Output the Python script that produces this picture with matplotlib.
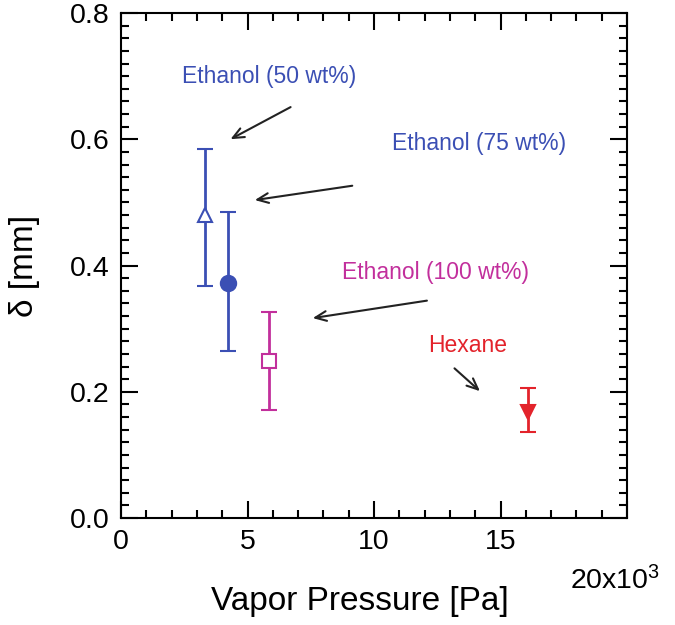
import numpy as np
import matplotlib.pyplot as plt
from matplotlib.ticker import MultipleLocator, FixedLocator

plt.rcParams['font.family'] = ['Liberation Sans', 'DejaVu Sans']
plt.rcParams['mathtext.fontset'] = 'custom'
plt.rcParams['mathtext.rm'] = 'Liberation Sans'
plt.rcParams['mathtext.it'] = 'Liberation Sans:italic'

# data (vapor pressure in kPa, delta in mm)
names = ['Ethanol (50 wt%)', 'Ethanol (75 wt%)', 'Ethanol (100 wt%)', 'Hexane']
pressure = [3.32, 4.23, 5.85, 16.1]
delta = [0.48, 0.373, 0.248, 0.168]
err_low = [0.112, 0.109, 0.077, 0.032]
err_high = [0.105, 0.111, 0.079, 0.038]
colors = ['#3b4fb4', '#3b4fb4', '#c22f9c', '#e3232b']
markers = ['^', 'o', 's', 'v']
filled = [False, True, False, True]

fig = plt.figure(figsize=(6.75, 6.25), dpi=100)
ax = fig.add_axes([121/675, 1-518/625, (627-121)/675, (518-13)/625])

for i in range(len(names)):
    ax.errorbar(pressure[i], delta[i], yerr=[[err_low[i]], [err_high[i]]],
                fmt=markers[i], color=colors[i], ms=10 if markers[i] != 'o' else 11,
                mfc=colors[i] if filled[i] else 'white', mec=colors[i], mew=1.5,
                elinewidth=2, capsize=6, capthick=2)

# annotations: text pos, arrow tail, arrow head
text_pos = [(5.85, 0.70), (14.15, 0.593), (12.45, 0.389), (13.7, 0.274)]
tails = [(6.8, 0.653), (9.25, 0.527), (12.2, 0.345), (13.1, 0.240)]
heads = [(4.23, 0.598), (5.18, 0.503), (7.47, 0.316), (14.27, 0.198)]
for i in range(len(names)):
    ax.text(text_pos[i][0], text_pos[i][1], names[i], color=colors[i],
            fontsize=16.5, ha='center', va='center')
    ax.annotate('', xy=heads[i], xytext=tails[i],
                arrowprops=dict(arrowstyle='->,head_length=0.8,head_width=0.35',
                                color='#222222', lw=1.5))

ax.set_xlim(0, 20)
ax.set_ylim(0, 0.8)
ax.xaxis.set_major_locator(FixedLocator([0, 5, 10, 15, 20]))
ax.xaxis.set_minor_locator(MultipleLocator(1))
ax.yaxis.set_major_locator(FixedLocator([0, 0.2, 0.4, 0.6, 0.8]))
ax.yaxis.set_minor_locator(MultipleLocator(0.02))
ax.set_xticklabels(['0', '5', '10', '15', ''])
ax.set_yticklabels(['0.0', '0.2', '0.4', '0.6', '0.8'])
ax.tick_params(which='both', direction='in', top=True, right=True, width=1.5, labelsize=20.5)
ax.tick_params(which='major', length=12, pad=8)
ax.tick_params(which='minor', length=6)
for s in ax.spines.values():
    s.set_linewidth(1.5)

ax.text(0.887, -0.125, '20x10$^3$', transform=ax.transAxes, fontsize=20.5,
        ha='left', va='center')
ax.set_xlabel('Vapor Pressure [Pa]', fontsize=24, labelpad=22, x=0.472)
ax.set_ylabel('δ [mm]', fontsize=24, labelpad=22)

fig.savefig('out.png', dpi=100)
